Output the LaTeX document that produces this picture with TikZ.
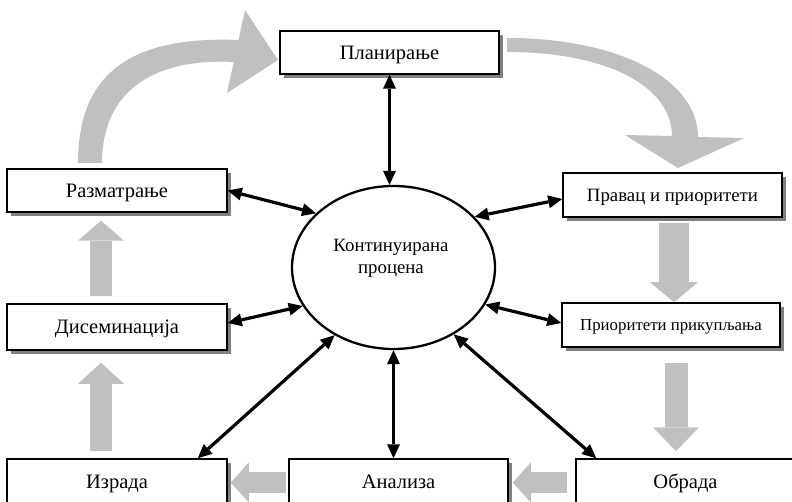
\documentclass[tikz,border=0pt]{standalone}
\usepackage{fontspec}
\setmainfont{Liberation Serif}
\usetikzlibrary{arrows.meta,shapes.geometric,shadows,calc,backgrounds}
\definecolor{garrowc}{RGB}{192,192,192}
\definecolor{shadowc}{RGB}{128,128,128}
\begin{document}
\begin{tikzpicture}[x=1pt,y=-1pt,
  box/.style={draw=black, line width=1.5pt, fill=white, minimum width=219pt,
    minimum height=43pt, inner sep=0pt, text height=13.8pt, text depth=0pt,
    font=\fontsize{20.5}{24}\selectfont,
    general shadow={fill=shadowc, shadow xshift=4pt, shadow yshift=-4pt}},
  dbl/.style={line width=3.2pt,
    {Triangle[length=14pt,width=13pt,line width=0pt]}-{Triangle[length=14pt,width=13pt,line width=0pt]}},
  gbar/.style n args={3}{draw=garrowc, line width=#1,
    -{Triangle[length=#3,width=#2,line width=0pt]}},
  gcurve/.style={fill=garrowc, draw=none}
]
\useasboundingbox (0,0) rectangle (792,502);
\clip (0,0) rectangle (792,502);

% boxes
\node[box] (plan) at (389.5,52.5) {Планирање};
\node[box, minimum width=220pt] (razm) at (117,190.5) {Разматрање};
\node[box, minimum height=44pt, font=\fontsize{18.8}{22}\selectfont, text height=12.4pt] (pravac) at (672.5,195) {Правац и приоритети};
\node[box, minimum width=218pt, minimum height=44pt, font=\fontsize{16.8}{20}\selectfont, text height=11.1pt] (prik) at (671,325) {Приоритети прикупљања};
\node[box, minimum width=220pt, minimum height=46pt] (disem) at (117,327) {Дисеминација};
\node[box, minimum width=220pt, minimum height=45pt] (izrada) at (117,481.5) {Израда};
\node[box, minimum height=45pt] (analiza) at (398.5,481.5) {Анализа};
\node[box, minimum height=45pt] (obrada) at (685.5,481.5) {Обрада};

% centre ellipse
\node[ellipse, draw=black, line width=2.3pt, fill=white, minimum width=203pt,
  minimum height=163pt, inner sep=0pt] (ev) at (393.5,267.5) {};
\node[font=\fontsize{18.8}{22}\selectfont, align=center, inner sep=0pt] (evt) at (391,258) {Континуирана\\процена};

% gray process arrows
\begin{scope}[on background layer]
  \fill[gcurve] (78,163) .. controls (78,70) and (135,36) .. (238.5,40)
    -- (245,10) -- (278,60) -- (227,93) -- (233.7,62)
    .. controls (155,58) and (102,90) .. (102,163) -- cycle;
  \fill[gcurve] (507,38) .. controls (620,38) and (698,80) .. (698,137)
    -- (744,138) -- (678,168) -- (625,135) -- (672,136)
    .. controls (672,88) and (610,52) .. (507,52) -- cycle;
  \draw[gbar={30pt}{48pt}{20pt}] ($(pravac.south)+(1.5,5)$) -- ($(prik.north)+(3,0)$);
  \draw[gbar={23pt}{46pt}{24pt}] ($(prik.south)+(5,15)$) -- ($(obrada.north)+(-9.5,-7)$);
  \draw[gbar={21pt}{40pt}{18pt}] ($(obrada.west)+(-8,1)$) -- ($(analiza.east)+(4,1)$);
  \draw[gbar={21pt}{40pt}{18pt}] ($(analiza.west)+(-2,1)$) -- ($(izrada.east)+(3,1)$);
  \draw[gbar={22pt}{46pt}{21pt}] ($(izrada.north)+(-16,-7)$) -- ($(disem.south)+(-16,12)$);
  \draw[gbar={22pt}{46pt}{20pt}] ($(disem.north)+(-16,-7)$) -- ($(razm.south)+(-16,8)$);
\end{scope}

% black two-way arrows
\draw[dbl] (plan.south) -- (plan.south |- ev.north);
\draw[dbl] (razm.east) -- (ev.145);
\draw[dbl] ($(pravac.west)+(0,4)$) -- (ev.32);
\draw[dbl] ($(disem.east)+(0,-4)$) -- (ev.203);
\draw[dbl] ($(prik.west)+(0,-2)$) -- (ev.338);
\draw[dbl] ($(izrada.north east)+(-30,0)$) -- (ev.229);
\draw[dbl] (ev.south) -- (ev.south |- analiza.north);
\draw[dbl] ($(obrada.north west)+(21,0)$) -- (ev.312);
\end{tikzpicture}
\end{document}
